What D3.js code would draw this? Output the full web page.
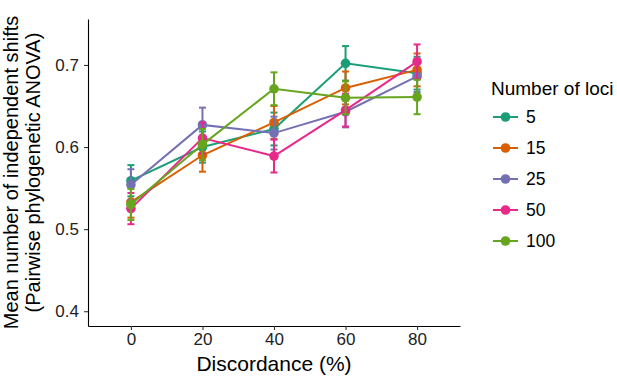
<!DOCTYPE html>
<html>
<head>
<meta charset="utf-8">
<script src="https://cdn.jsdelivr.net/npm/d3@7"></script>
<style>
  body { margin: 0; background: #fff; }
  svg text { font-family: 'Liberation Sans', Arial, sans-serif; }
</style>
</head>
<body>
<div id="chart"></div>
<script>
const discordance = [0, 20, 40, 60, 80]
const lociLabels = ['5', '15', '25', '50', '100']
const segColor = ['#1b9e77', '#d95f02', '#7570b3', '#e7298a', '#66a61e']

// mean per loci group, one value per discordance level
const means = [
  [0.559, 0.600, 0.622, 0.702, 0.690],
  [0.533, 0.590, 0.630, 0.672, 0.694],
  [0.554, 0.627, 0.617, 0.643, 0.686],
  [0.525, 0.611, 0.589, 0.645, 0.704],
  [0.530, 0.603, 0.671, 0.660, 0.661]
]
// standard errors
const errs = [
  [0.019, 0.019, 0.020, 0.021, 0.020],
  [0.019, 0.020, 0.020, 0.020, 0.020],
  [0.019, 0.021, 0.020, 0.019, 0.019],
  [0.019, 0.019, 0.020, 0.020, 0.021],
  [0.019, 0.019, 0.020, 0.020, 0.021]
]
const xTicks = [0, 20, 40, 60, 80]
const yTicks = [0.4, 0.5, 0.6, 0.7]

const width = 617
const height = 378
const plotLeft = 88
const plotRight = 460
const plotTop = 19
const plotBottom = 326

const svg = d3.select('#chart').append('svg')
  .attr('width', width)
  .attr('height', height)

const x = d3.scaleLinear().domain([-12, 92]).range([plotLeft, plotRight])
const y = d3.scaleLinear().domain([0.382, 0.756]).range([plotBottom, plotTop])

// axes
const xAxis = svg.append('g')
  .attr('transform', 'translate(0,' + plotBottom + ')')
  .call(d3.axisBottom(x).tickValues(xTicks).tickSize(4).tickSizeOuter(0).tickPadding(3))
const yAxis = svg.append('g')
  .attr('transform', 'translate(' + plotLeft + ',0)')
  .call(d3.axisLeft(y).tickValues(yTicks).tickFormat(d3.format('.1f')).tickSize(4).tickSizeOuter(0).tickPadding(5))

for (const ax of [xAxis, yAxis]) {
  ax.select('.domain').attr('stroke', '#000').attr('stroke-width', 1.1)
  ax.selectAll('.tick line').attr('stroke', '#333').attr('stroke-width', 1.1)
  ax.selectAll('.tick text').attr('fill', '#222').style('font-size', '17px')
}

// axis titles
svg.append('text')
  .attr('x', (plotLeft + plotRight) / 2)
  .attr('y', 371)
  .attr('text-anchor', 'middle')
  .style('font-size', '21px')
  .attr('fill', '#000')
  .text('Discordance (%)')

const yMid = (plotTop + plotBottom) / 2
svg.append('text')
  .attr('transform', 'translate(18,' + yMid + ') rotate(-90)')
  .attr('text-anchor', 'middle')
  .style('font-size', '20px')
  .text('Mean number of independent shifts')
svg.append('text')
  .attr('transform', 'translate(40,' + yMid + ') rotate(-90)')
  .attr('text-anchor', 'middle')
  .style('font-size', '20px')
  .text('(Pairwise phylogenetic ANOVA)')

// series
const series = lociLabels.map((lab, j) => ({
  label: lab,
  color: segColor[j],
  values: discordance.map((d, i) => ({ x: d, m: means[j][i], e: errs[j][i] }))
}))

const line = d3.line().x(d => x(d.x)).y(d => y(d.m))

const grp = svg.selectAll('g.series')
  .data(series)
  .enter().append('g')
  .attr('class', 'series')

grp.append('path')
  .attr('d', d => line(d.values))
  .attr('fill', 'none')
  .attr('stroke', d => d.color)
  .attr('stroke-width', 2)

const capW = 3.5
grp.each(function (s) {
  const g = d3.select(this)
  const eb = g.selectAll('g.err').data(s.values).enter().append('g')
  eb.append('line')
    .attr('x1', d => x(d.x)).attr('x2', d => x(d.x))
    .attr('y1', d => y(d.m - d.e)).attr('y2', d => y(d.m + d.e))
    .attr('stroke', s.color).attr('stroke-width', 2)
  eb.append('line')
    .attr('x1', d => x(d.x) - capW).attr('x2', d => x(d.x) + capW)
    .attr('y1', d => y(d.m + d.e)).attr('y2', d => y(d.m + d.e))
    .attr('stroke', s.color).attr('stroke-width', 2)
  eb.append('line')
    .attr('x1', d => x(d.x) - capW).attr('x2', d => x(d.x) + capW)
    .attr('y1', d => y(d.m - d.e)).attr('y2', d => y(d.m - d.e))
    .attr('stroke', s.color).attr('stroke-width', 2)
  g.selectAll('circle').data(s.values).enter().append('circle')
    .attr('cx', d => x(d.x))
    .attr('cy', d => y(d.m))
    .attr('r', 4.8)
    .attr('fill', s.color)
})

// legend
svg.append('text')
  .attr('x', 491)
  .attr('y', 95)
  .style('font-size', '19px')
  .text('Number of loci')

const legend = svg.selectAll('.legend')
  .data(series)
  .enter().append('g')
  .attr('class', 'legend')
  .attr('transform', (d, i) => 'translate(493,' + (117 + i * 31) + ')')

legend.append('line')
  .attr('x1', 0).attr('x2', 25)
  .attr('stroke', d => d.color).attr('stroke-width', 2)
legend.append('circle')
  .attr('cx', 12.5).attr('r', 4.8)
  .attr('fill', d => d.color)
legend.append('text')
  .attr('x', 33)
  .attr('dy', '0.36em')
  .style('font-size', '17.5px')
  .text(d => d.label)
</script>
</body>
</html>
